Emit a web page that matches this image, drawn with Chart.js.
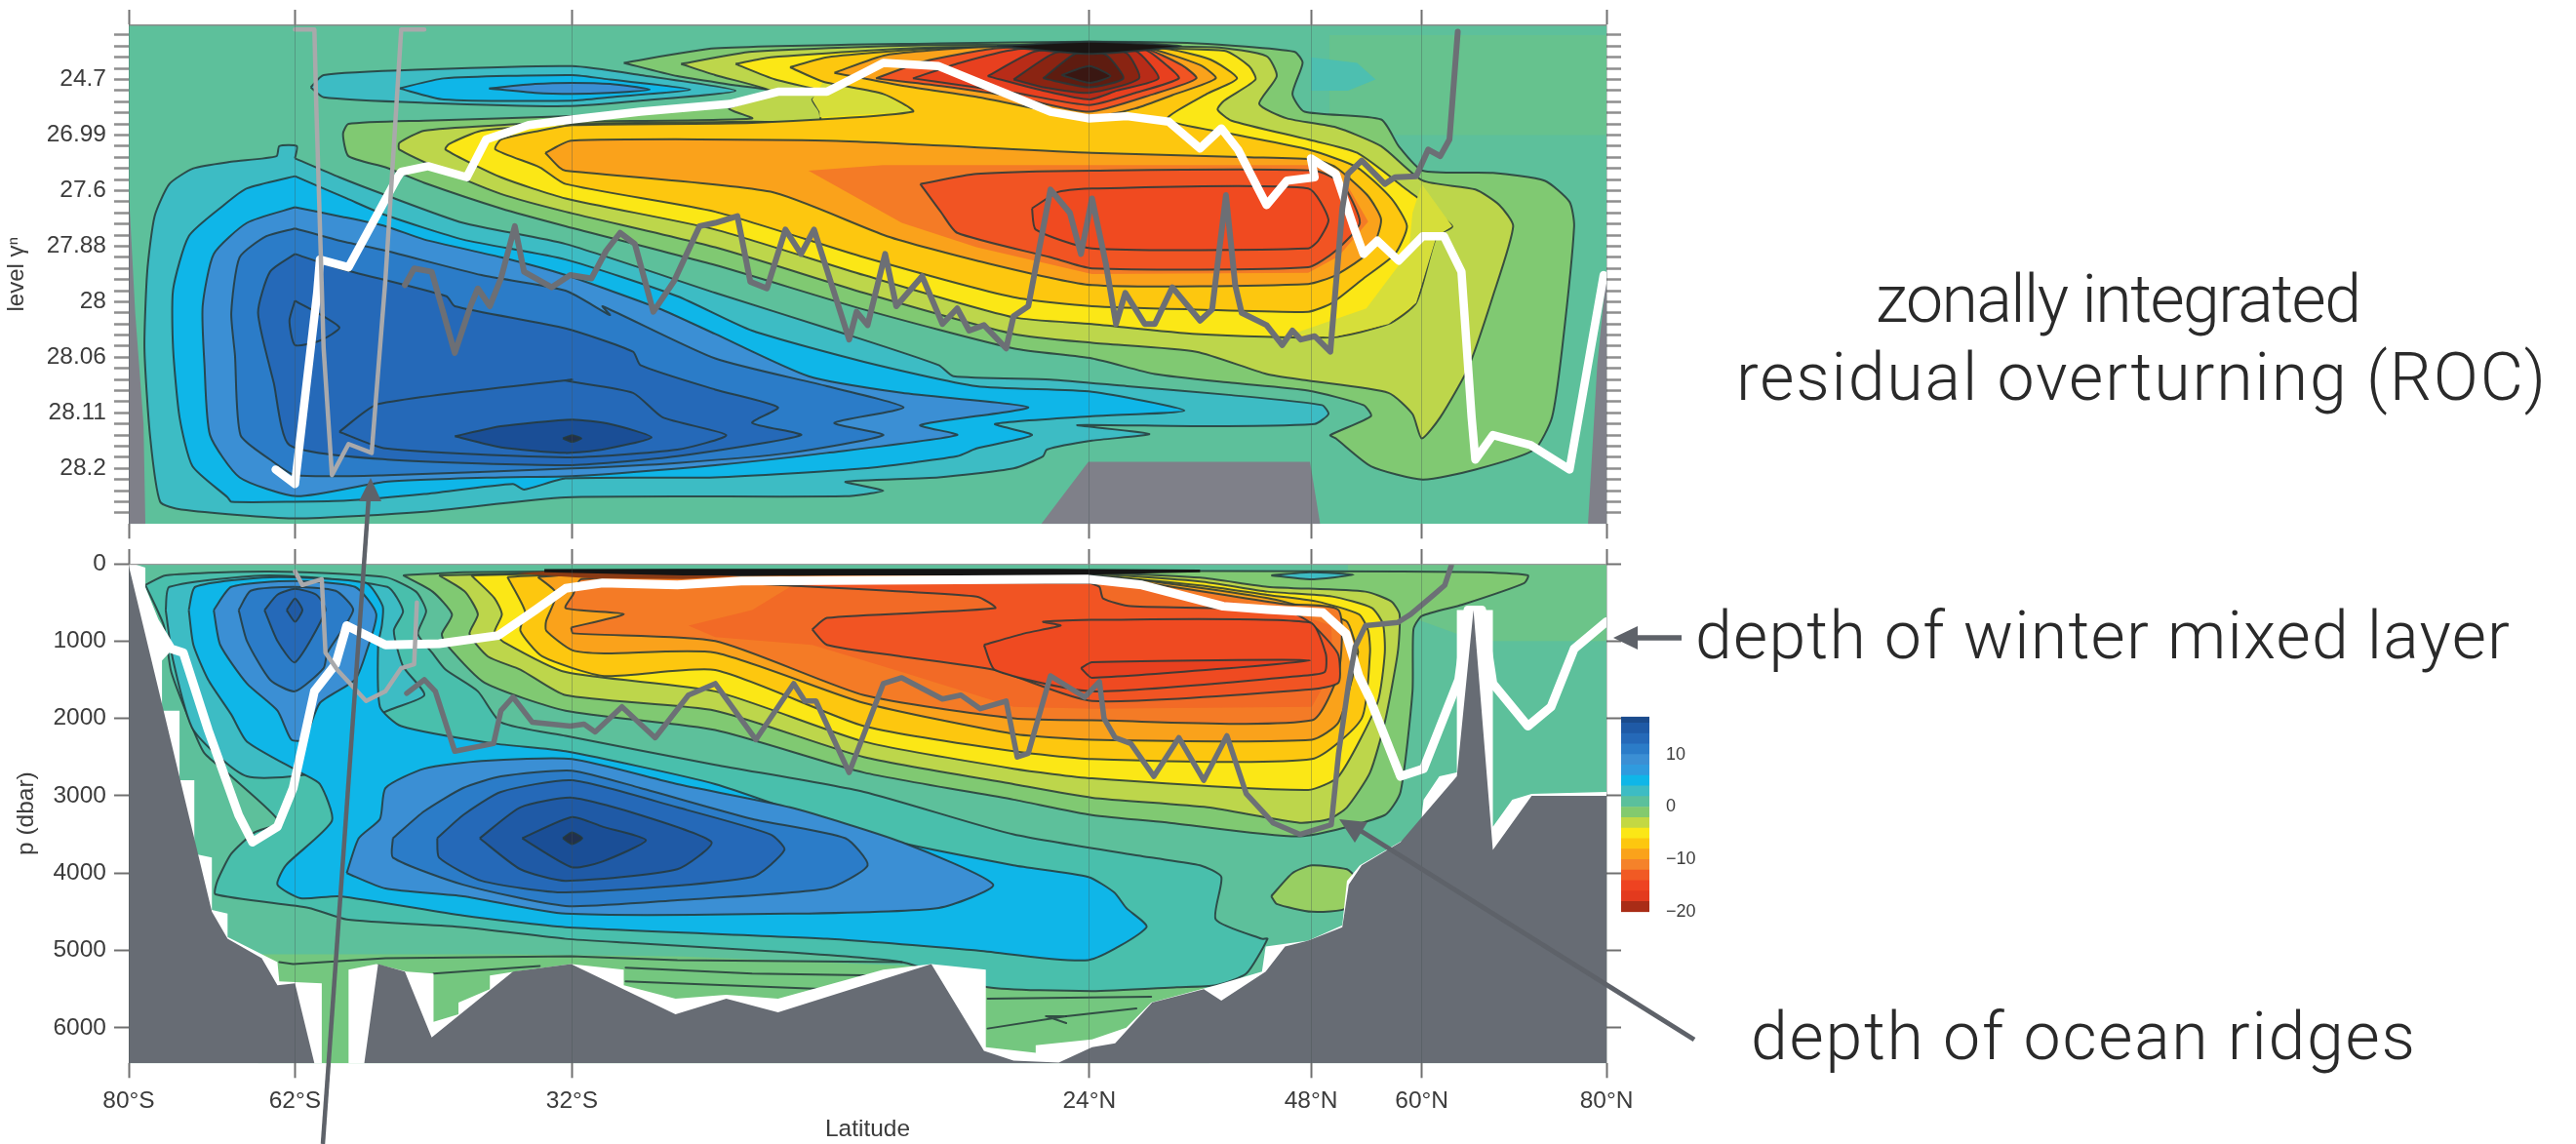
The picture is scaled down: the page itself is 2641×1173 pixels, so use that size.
<!DOCTYPE html>
<html>
<head>
<meta charset="utf-8">
<title>ROC</title>
<script src="https://cdn.jsdelivr.net/npm/chart.js@4/dist/chart.umd.min.js"></script>
<style>
html,body{margin:0;padding:0;background:#fff;width:2641px;height:1173px;overflow:hidden}
canvas{position:absolute;filter:blur(.7px)}
svg{position:absolute;left:0;top:0}
</style>
</head>
<body>
<canvas id="topChart" style="left:0;top:0"></canvas>
<canvas id="bottomChart" style="left:0;top:555px"></canvas>
<canvas id="barChart" style="left:1640px;top:715px"></canvas>
<svg width="2641" height="1173" xmlns="http://www.w3.org/2000/svg">
  <g font-family="Roboto" font-weight="300" font-size="68" fill="#2a2a2a" dominant-baseline="middle">
    <text x="1923" y="312" textLength="498">zonally integrated</text>
    <text x="1780" y="392" textLength="830">residual overturning (ROC)</text>
    <text x="1738" y="657" textLength="835">depth of winter mixed layer</text>
    <text x="1795" y="1068" textLength="681">depth of ocean ridges</text>
  </g>
  <g stroke="#5e6269" fill="none">
    <line x1="331" y1="1173" x2="378" y2="510" stroke-width="4.5"/>
    <line x1="1724" y1="654" x2="1675" y2="654" stroke-width="5.5"/>
    <line x1="1737" y1="1066" x2="1392" y2="850" stroke-width="5"/>
  </g>
  <g fill="#5e6269">
    <polygon points="380,490 368,514 391,514"/>
    <polygon points="1654,654 1679,642 1679,666"/>
    <polygon points="1373,840 1402,843 1389,864"/>
  </g>
</svg>
<script>
// axes
const latTicks = [-80, -62, -32, 24, 48, 60, 80];
const latLabels = ['80°S', '62°S', '32°S', '24°N', '48°N', '60°N', '80°N'];
const levelTicks = [4, 9, 14, 19, 24, 29, 34, 39];
const levelLabels = ['24.7', '26.99', '27.6', '27.88', '28', '28.06', '28.11', '28.2'];
const levelCount = 44;
const pressureTicks = [0, 1000, 2000, 3000, 4000, 5000, 6000];
const colorTicks = [-20, -10, 0, 10];
const colorEdges = [-20, -18, -16, -14, -12, -10, -8, -6, -4, -2, 0, 2, 4, 6, 8, 10, 12, 14, 16, 17.2];

// top panel: [latitude, level index]
const topBg = [[-80,-1],[80,-1],[80,44],[-80,44]];
const topEdge = [[-80,-0.96],[80,-0.96]];
const topPatch1 = [[50,0],[80,0],[80,9],[50,9]];
const topPatch2 = [[48,2],[53,2.5],[55,4],[52,5],[48,5]];
const tC1 = [[-62,11.1],[-57.2,12.8],[-52.2,14.4],[-43.8,16.9],[-32.7,18.8],[-16.5,23.2],[-2.4,26.9],[7.7,29.7],[9.3,30.7],[19.8,31],[28.1,31.6],[39.4,32.4],[49.2,33.3],[49.9,34.1],[48.4,35],[35.6,35.2],[22.7,35.1],[30.5,35.9],[24.3,36.5],[19.4,37.3],[19,37.9],[15.8,39],[7.7,39.8],[-2.4,40.2],[1.7,41],[-2.4,41.5],[-32.7,41.6],[-48,42.9],[-62.2,43.5],[-74.3,42.7],[-76.6,42],[-77.7,36],[-78.3,28.2],[-78,21.3],[-77.2,16.3],[-75.6,13.4],[-73,12],[-68.9,11.4],[-64,10.9],[-63.7,10],[-61.8,10]];
const tC2 = [[-62,12.7],[-56.4,14.7],[-52.2,16.2],[-43.8,18.4],[-32.7,20.2],[-20.6,23.5],[-12.5,26.6],[-0.4,29.4],[11.8,31.6],[24.3,32.1],[34.3,33.8],[24.3,34.3],[13.8,35],[17.8,36],[11.8,37.2],[9.7,37.9],[-0.4,39],[-16.5,39.8],[-32.7,39.9],[-37.2,40.9],[-38.4,40.4],[-48,41.3],[-56.4,41.9],[-62,42],[-68.9,42],[-69.3,41.6],[-73.1,38.8],[-74.5,34.4],[-75.2,28.2],[-75.2,22.9],[-73.5,18.1],[-69.7,15.3],[-67.2,13.8]];
const tC3 = [[-62,15.5],[-67.2,16.9],[-70.8,19.7],[-72,24.4],[-71.8,29.7],[-71.2,36],[-68,39.8],[-61.8,41.5],[-52.2,40.2],[-39.7,39.8],[-32.1,39.7],[-16.5,38.7],[-4.4,37.6],[9.7,36],[5.7,35.1],[17.4,33.5],[3.7,32.2],[-6.4,30.7],[-16.5,26.9],[-22.6,24.6],[-32.7,21.6],[-39.7,20],[-48,18.4],[-52.2,17.2],[-57.2,16.3]];
const tC4 = [[-62,17.4],[-65.1,18.1],[-68,20],[-68.9,25],[-68.5,28.8],[-67.9,36],[-64.7,38.2],[-62,39.6],[-52,39.6],[-32,39],[-20.6,38.5],[-8.4,37.6],[1.7,36],[-3.6,34.9],[3.9,33.5],[-4.4,31.6],[-16.5,29.1],[-28.7,24.4],[-27.9,25.2],[-32.7,23],[-41.8,21.6],[-52.2,19.4],[-57.2,18.5]];
const tC5 = [[-62,19.7],[-64.7,21.3],[-66,25],[-64.3,31.3],[-62.6,36.9],[-52,38.2],[-32,38.7],[-20.6,37.9],[-7.2,36],[-12.5,34.9],[-9.7,33.5],[-16.5,31.9],[-24.6,29.7],[-25.4,28.5],[-32.7,26.4],[-44.7,24.4],[-45.6,23.5],[-57.2,21]];
const tC5b = [[-62,23.9],[-57.2,26.3],[-59.3,27.5],[-62,27.9],[-62.6,25.7]];
const tC6 = [[-57.2,35.7],[-53,33.2],[-32,31],[-32.7,31.1],[-25.4,32.2],[-22.2,34.4],[-15.3,36],[-20.6,37.3],[-32.7,38],[-52.2,37.2]];
const tC7 = [[-44.7,36.1],[-39.7,35.2],[-32,34.6],[-27.9,35],[-23.4,36.2],[-28.7,37.3],[-32.7,37.6],[-39.7,37.1]];
const tC8 = [[-33,36.3],[-32,36],[-31,36.3],[-32,36.6]];
const tUpCold1 = [[-60.3,4.7],[-58.9,3.6],[-48,3.1],[-32,2.8],[-24.6,3.6],[-14.3,5],[-24.6,5.9],[-32.7,6.4],[-48,6.1],[-58.9,5.6]];
const tUpCold2 = [[-50.7,4.8],[-45.9,3.9],[-32,3.6],[-27.9,4],[-19.2,4.9],[-27.9,5.6],[-32,5.9],[-45.9,5.8]];
const tUpCold3 = [[-41,4.8],[-36,4.4],[-32,4.3],[-27.9,4.4],[-23.6,4.9],[-28,5.2],[-32,5.3],[-36,5.2]];
const tW1 = [[-26.4,2.5],[-16.5,1.2],[7.7,0.75],[23.9,0.6],[35.6,0.75],[46.2,1.5],[47.1,2.5],[46,5.3],[47.3,6.9],[55.6,7.6],[57.5,10],[60.1,12.2],[67.7,12.4],[73.3,13.1],[76,15],[76.5,17.2],[75.2,28.2],[74.1,34.4],[72.2,37.3],[65.8,39.1],[60.1,40],[54.5,38.8],[50.7,36.3],[50.1,36],[54.5,34.3],[53.7,33.3],[47.7,32],[39.4,31.3],[31.1,30.5],[24.3,29.1],[15.8,28.2],[-0.4,24.7],[-16.5,20.7],[-32.7,17.2],[-39.7,15.6],[-48,13.3],[-52.2,11.9],[-56.2,10.9],[-56.8,8.9],[-56.2,8],[-48,7.7],[-32.1,7.3],[-24.6,7],[-15.3,6.2],[-10,5.1],[-14.5,4.5],[-20.6,3.7]];
const tW2 = [[-20.2,2.6],[-12.5,1.5],[7.7,0.9],[37.5,1.1],[43.2,1.9],[44.3,3.7],[42.4,6.2],[45.4,7.5],[50.7,8.3],[55.6,10],[60.1,13.1],[65.8,13.9],[68.4,15.3],[69.9,17.2],[67.7,23.5],[65,30],[62,34.4],[60,36.3],[59,34.1],[56.4,32.2],[47.7,31.1],[43.2,30.5],[35.6,28.5],[24.3,27.7],[15.8,26.9],[-0.4,23.2],[-16.5,19.1],[-32.7,15.9],[-39.7,14.3],[-45.9,12.2],[-50.7,10.3],[-50.7,9.7],[-48,8.6],[-39.7,8.1],[-32,7.8],[-12.5,7.5],[-15,6.6],[-10,5.2],[-16.5,3.6]];
const tW3 = [[-14.3,2.6],[-10.5,2],[7.7,1.1],[38.6,1.4],[41.3,2.8],[42,4],[38.6,5.9],[37.9,6.7],[39.4,7.7],[47.7,9.4],[53,10.6],[58.2,13.8],[63.3,17.2],[61.6,18.1],[59.4,24.1],[56.4,26],[50.3,27.2],[35.6,26.9],[24.3,26],[15.8,25.4],[-0.4,21.6],[-16.5,17.5],[-32.7,14.7],[-39.7,12.8],[-45.7,10.3],[-45.3,9.8],[-41.8,8.6],[-32.1,8],[-12.5,7.8],[-5.2,7.8],[-5.2,6.9],[-6,5.8],[-4.8,5.1],[-10,4]];
const tYgPatch = [[-4.8,4.2],[1.7,5.3],[4.9,6.9],[-5.2,7.4],[-5.2,6.9],[-6,5.8]];
const tYgPatch2 = [[60,13.4],[63.3,17.2],[61.6,18.1],[59.4,24.1],[56.4,26],[50.3,27.2],[46,26.9],[54,24.6],[58.6,19.5],[59,16]];
const tW4 = [[-8.4,2.9],[-4.4,2],[7.7,1.2],[31.8,1.2],[37.1,2.2],[40,3.9],[36.7,5.3],[32.4,7.6],[39.4,8.9],[47.7,10.3],[53,11.9],[56.7,14.7],[58.4,17.2],[57.1,19.7],[53.7,21.9],[50.3,24.1],[47.7,24.9],[35.6,24.7],[24.3,24.4],[15.8,23.6],[-0.4,20],[-16.5,15.9],[-32.7,13.4],[-35.5,11.9],[-40.3,10.3],[-39.7,9.4],[-35.5,8.6],[-32,8.1],[-12.5,7.9],[4.9,6.9],[1.7,5.3],[-4.8,4.2]];
const tW5 = [[-34.9,10.6],[-32.1,9.5],[-4.4,9.5],[24.3,10.6],[41.3,11],[48.4,11.2],[50.7,11.9],[54.1,14.4],[55.6,16.6],[54.5,19.4],[50.7,21.6],[47.7,22.4],[24.3,22.5],[11.8,20.3],[2.1,18.1],[-10.5,14.1],[-32.7,12.2],[-33.4,11.9]];
const tW5b = [[-6.4,12.2],[1.7,11.7],[24.3,11.7],[48.4,11.7],[52,13.6],[54.2,16.8],[51,19.9],[47.7,21.4],[24.3,21.5],[11.8,19.1],[3.7,16.9]];
const tW6 = [[5.7,13.4],[11.8,12.5],[24.3,12.2],[48.4,12.2],[51.4,13.4],[53.3,16.9],[50.7,19.4],[47.7,20.9],[24.3,21],[19.8,20],[9.7,17.8],[8,16]];
const tW7 = [[17.8,15.6],[20.7,14.1],[24.3,13.8],[47.7,13.8],[49.9,16.6],[48.8,18.5],[47.7,19.2],[24.3,19.2],[18.2,17.5]];
const tUp5 = [[-3.6,3.4],[2,1.8],[12,1.1],[24,0.9],[30,1.1],[36,2.7],[37.7,3.9],[33,5.4],[29,6.6],[25,7.3],[20,6.9],[12,5.6],[4,4.6]];
const tUp6 = [[0.9,3.9],[6,2.4],[14,1.2],[24,1],[30,1.2],[34,2.7],[35.6,3.9],[31,5.3],[24,6.9],[16,5.6],[8,4.6]];
const tUp7 = [[4.9,3.9],[10,2.5],[16,1.3],[24,1],[30,1.3],[32.5,2.8],[33.7,3.9],[29,5.2],[24,6.3],[16,5.2],[10,4.5]];
const tUp8 = [[13,3.7],[18,1.5],[24,1.05],[29,1.4],[31.5,3.9],[27,5],[24,5.8],[19,5]];
const tUp9 = [[15.8,4],[20,1.7],[24,1.1],[28,1.6],[29.4,3.9],[24,5.2],[19,4.7]];
const tUp10 = [[19,3.9],[22,1.9],[24,1.2],[26,1.9],[27.7,3.9],[24,4.7]];
const tUp11 = [[21,3.6],[24,2.8],[26.3,3.7],[24,4.3]];
const tUpTop = [[14,1],[24,0.6],[34,1],[24,1.7]];
const tLandL = [[-80,14],[-79.3,25],[-78.4,35],[-78.2,44],[-80,44]];
const tLandM = [[18.8,44],[23.9,38.4],[47.9,38.4],[49,44]];
const tLandR = [[78,44],[79,29.7],[80,21.3],[80,44]];
const tMixed = [[-64.1,39.1],[-62,40.4],[-59.6,23.2],[-59.3,20.2],[-56.2,20.9],[-50.9,12.8],[-50.5,12.3],[-47.6,11.8],[-43.4,12.8],[-41.3,9.4],[-36.7,8.1],[-32,7.6],[-24.6,6.9],[-14.9,6.2],[-9.7,5.1],[-4.4,5.1],[-0.4,3.4],[1.7,2.5],[7.7,2.8],[11.8,4.2],[19.8,6.9],[23.9,7.5],[28.1,7.3],[32.6,7.8],[36,10.2],[38.3,8.4],[40.1,10.3],[43.2,15.3],[45.4,13.1],[48.4,12.8],[48,11.1],[50.7,12.5],[52.6,17.2],[53.7,19.7],[55.2,18.5],[57.5,20.3],[60.1,18.1],[62.4,18.1],[64.3,21.3],[65.4,34.4],[65.8,38.2],[67.7,36],[71.8,36.9],[76,39.1],[79.7,21.6]];
const tRidgeLight = [[-62,-0.5],[-59.9,-0.5],[-59.7,6.2],[-58.9,28.2],[-58,39.6],[-56.2,36.8],[-53.7,37.6],[-52.2,21.9],[-50.5,-0.5],[-48,-0.5]];
const tRidge = [[-50.1,22.5],[-49.1,21],[-47.2,21.3],[-44.7,28.6],[-43,24.4],[-42.2,22.8],[-40.9,24.4],[-39.7,21.9],[-38.2,17.2],[-37.2,21.3],[-34.2,22.7],[-32.2,21.6],[-29.9,21.9],[-28.3,19.4],[-26.8,17.8],[-25.2,18.8],[-23.2,24.9],[-21,22.2],[-18.2,17.2],[-16.5,16.9],[-14.1,16.3],[-12.7,22.2],[-10.9,22.8],[-8.9,17.5],[-7.2,19.7],[-5.8,17.5],[-2,27.4],[-1.2,24.9],[0,26.1],[1.9,19.7],[3.1,24.4],[5.9,21.7],[8.1,26],[9.7,24.6],[11,26.6],[12.6,26.1],[15,28.2],[15.8,25.3],[17.4,24.4],[19.8,13.9],[21.9,16],[23.1,19.7],[24.3,14.7],[25.8,20.6],[26.9,26],[27.9,23.2],[30,26],[31.1,26],[33,22.7],[36,25.7],[37.3,24.7],[38.8,14.4],[39.8,22.5],[40.5,25],[43.2,26.1],[44.9,27.9],[46,26.6],[46.9,27.4],[48.4,27.1],[50.1,28.5],[51.4,15.6],[52,12.5],[53.5,11.3],[56,13.4],[57.1,12.8],[59.4,12.7],[60.7,10.3],[62,10.9],[63,9.4],[63.3,6.2],[63.9,-0.3]];

// bottom panel: [latitude, pressure]
const botBg = [[-80,0],[80,0],[80,6460],[-80,6460]];
const botEdge = [[-80,0],[80,0]];
const botPatch = [[52,0],[80,0],[80,1000],[66,1000],[52,400]];
const botGreen = [[-66,5050],[-40,5050],[-20,5080],[5,5200],[13,5300],[30,5250],[37,5500],[37,6460],[-66,6460]];
const bC1 = [[-78.2,275],[-76,150],[-64.7,100],[-52.2,175],[-48.9,361],[-47.8,613],[-48.7,907],[-47.1,1159],[-45.7,1369],[-42.2,1650],[-39.7,2050],[-32.7,2225],[-16.5,2600],[-0.4,2950],[15.8,3500],[30.7,3800],[36,3900],[38.3,4050],[37.7,4600],[42.7,4850],[43.3,4850],[41,5300],[37.7,5450],[33.5,5475],[24.3,5525],[13,5475],[3.7,5150],[-8.4,5025],[-26.2,4900],[-32.7,4850],[-43.8,4700],[-56.4,4600],[-60.5,4450],[-70.6,4275],[-70.4,4100],[-68.9,3750],[-66.4,3475],[-63.7,3340],[-68.9,2750],[-71.8,2450],[-73,2150],[-75.4,1400],[-76.2,800]];
const bC1b = [[-76,600],[-75.6,300],[-64.7,150],[-52,300],[-50.3,613],[-51.3,865],[-50.3,1327],[-48,1700],[-52.8,1950],[-58,2650],[-67.2,2750],[-73,2150],[-75.2,1250]];
const bC2 = [[-73.5,600],[-72.8,300],[-64.7,175],[-54.3,250],[-52.5,550],[-52.6,800],[-53,1050],[-52.8,1850],[-50.5,2100],[-40.5,2325],[-32.7,2425],[-16.5,2850],[-0.4,3500],[15.8,3900],[23.9,4050],[26.7,4250],[28,4450],[30.2,4700],[23.9,5125],[11.8,5000],[-4.4,4850],[-32.7,4700],[-43.8,4550],[-57.2,4300],[-61.4,4325],[-63.9,4150],[-63,3900],[-58,3325],[-59.3,2850],[-61.4,2700],[-67.2,2300],[-68.9,1950],[-71.4,1500],[-73,1050]];
const bC3 = [[-56.4,4000],[-55.1,3550],[-52.8,3300],[-52.2,2900],[-48,2650],[-41.8,2550],[-32,2525],[-20.6,2850],[-8.4,3150],[3.7,3600],[13.6,4150],[7.7,4450],[-8.4,4525],[-32.7,4525],[-43.8,4300],[-52.2,4200]];
const bC4 = [[-51.4,3550],[-48,3200],[-43.8,2900],[-39.7,2750],[-32,2675],[-24.6,2900],[-12.5,3300],[-2.4,3550],[0,3900],[-4.4,4200],[-20.6,4350],[-32.7,4425],[-43.8,4150],[-51.4,3800]];
const bC5 = [[-46.6,3550],[-43.8,3250],[-39.7,2950],[-32,2800],[-20.6,3150],[-10.5,3500],[-9,3700],[-12.5,4050],[-32.7,4250],[-41.8,4100],[-46.4,3800]];
const bC6 = [[-42,3550],[-37.6,3150],[-32,3025],[-24.6,3250],[-16.9,3600],[-20.6,3950],[-32.7,4100],[-37.6,3950]];
const bC7 = [[-37.4,3550],[-32,3275],[-28.7,3400],[-24,3575],[-28.7,3850],[-32,3925]];
const bC8 = [[-33,3550],[-32,3475],[-30.9,3550],[-32,3625]];
const bU1 = [[-70.8,600],[-68.9,300],[-62.2,225],[-55.5,300],[-53.2,650],[-54.3,1150],[-55.5,1500],[-59.3,1800],[-61,2275],[-62.4,2275],[-63.9,1900],[-67.2,1550],[-70.1,1050]];
const bU2 = [[-68.1,600],[-66.8,350],[-62.2,300],[-57.6,350],[-55.7,600],[-58.5,1150],[-58.9,1350],[-62,1650],[-64.7,1500],[-67.2,1000]];
const bU3 = [[-65.3,600],[-63.9,400],[-62,325],[-59.7,400],[-58.7,600],[-62,1275],[-63.9,1000]];
const bU4 = [[-62.9,600],[-62,450],[-61.2,600],[-62,750]];
const bW1 = [[-50.3,151],[-43.8,110],[-20,90],[20,90],[57.7,100],[66.5,109],[71.5,150],[71.1,250],[64.4,529],[60,676],[59.1,850],[59,1650],[57.7,2950],[56,3250],[46.8,3525],[32.7,3350],[24.3,3250],[15.8,3050],[-0.4,2700],[-16.5,2150],[-32.7,1900],[-41.5,1537],[-45.7,1033],[-46.1,907],[-45,655],[-47.1,361]];
const bW2 = [[-46.4,151],[-30,110],[20,100],[36,180],[43.3,298],[53.9,361],[56.7,487],[57.6,655],[57.4,1150],[56,2050],[54.4,2700],[51.9,3150],[50,3300],[46.8,3350],[36.8,3150],[24.3,3025],[15.8,2850],[-0.4,2500],[-16.5,1900],[-32.7,1700],[-37.6,1369],[-41.1,1201],[-43.1,907],[-42.2,655],[-43.6,361]];
const bW3 = [[-42.9,151],[-30,120],[20,110],[36,230],[43.3,361],[50.3,424],[54.6,571],[55.8,781],[56,1150],[55.2,1800],[51,2750],[47.7,2925],[24.3,2775],[15.8,2650],[-0.4,2300],[-16.5,1650],[-32.7,1400],[-39.4,1012],[-40.4,886],[-39.6,655],[-40.4,445]];
const bW4 = [[-39,172],[-30,125],[20,120],[36,280],[43.3,403],[48.6,487],[53.2,655],[54.2,865],[54.4,1150],[53.5,2000],[48.1,2525],[24.3,2525],[15.8,2425],[-0.4,2100],[-16.5,1375],[-28.5,1453],[-35.2,1201],[-37.6,865],[-37.1,613]];
const bW5 = [[-35.7,172],[-30,130],[24,150],[43.3,445],[51.8,739],[52.7,991],[53.1,1150],[51,2050],[48.1,2275],[24.3,2275],[15.8,2200],[-0.4,1800],[-16.5,1150],[-28.5,1159],[-32,1117],[-34.8,865],[-34.8,739],[-33.7,382]];
const bW6 = [[-32.1,825],[-26.4,650],[-32.7,575],[-31.9,400],[-31,200],[-14,150],[24,160],[45,520],[51,600],[51,1400],[48.1,2025],[24.3,2025],[15.8,2000],[-0.4,1700],[-16.5,1000],[-31.9,900]];
const bW6b = [[-19.4,800],[-12.5,600],[-8.4,300],[10,170],[29.7,300],[45.2,600],[50.2,800],[50.4,1350],[48.1,1850],[24.3,1875],[15.8,1850],[3.7,1400],[-6,1050],[-16.5,950]];
const bW7 = [[-6,850],[-4.4,700],[13.8,575],[11.8,425],[-12.5,250],[23.9,250],[25.1,300],[25.5,450],[28.5,550],[45.2,600],[47.9,760],[50.9,1159],[51,1537],[48.1,1625],[24.3,1775],[13.8,1375],[3.7,1200],[-4.4,1050]];
const bW7b = [[12.6,1050],[17,900],[20.9,800],[19,750],[24.3,725],[47.9,760],[49.6,1159],[49.5,1400],[47,1450],[24.3,1650],[13.8,1375]];
const bW8 = [[23.1,1350],[24.3,1275],[47.9,1250],[24.3,1475]];
const bSurface = [[-35,70],[-20,65],[20,65],[36,75],[36,110],[20,150],[-20,150],[-35,110]];
const bSurfaceTip = [[-38,125],[-34,90],[-24,110],[-14,160],[-20,200],[-30,190]];
const bLobe = [[43.7,4300],[46,4000],[48.1,3900],[51.9,3950],[52.7,4050],[51.9,4450],[48.1,4500],[44.3,4400]];
const bSmallLobe = [[43.7,151],[47.9,109],[52.6,143],[47.9,201]];
const bLine1 = [[-63.7,5150],[-62.2,5175],[-52.2,5100],[-32.1,5075],[-20.6,5125],[3.7,5150]];
const bLine2 = [[-26.2,5225],[-12.5,5300],[1.3,5325]];
const bLine3 = [[-26.2,5400],[-4.4,5500]];
const bLine4 = [[13,5625],[30.7,5600]];
const bLine5 = [[13,6010],[21.5,5850],[19.3,5850],[21.5,5940]];
const bLine6 = [[21.5,5850],[29.1,5750]];
const bLine7 = [[-47,5300],[-35.5,5200]];
const bMask = [[-80,0],[-79.5,0],[-78.2,50],[-78.2,400],[-77.2,800],[-75.6,1150],[-76.4,1250],[-76.4,1900],[-74.5,1900],[-74.5,2800],[-72.9,2800],[-72.9,3750],[-71,3800],[-71,4475],[-69.3,4525],[-69.3,4825],[-63.9,5150],[-63.7,5400],[-59.1,5425],[-59.1,6460],[-56.2,6460],[-56.2,5250],[-53.2,5175],[-49.9,5275],[-47,5300],[-47,5925],[-44.3,5825],[-44.3,5675],[-40.9,5500],[-40.9,5325],[-38.2,5275],[-32.1,5175],[-26.4,5250],[-26.4,5450],[-20.8,5625],[-15.3,5575],[-9.7,5625],[1.7,5250],[6.9,5175],[12.8,5250],[12.8,6250],[18.2,6325],[18.2,6225],[24.3,6150],[28,6000],[30.7,5675],[37.7,5450],[42.7,5275],[43.1,4950],[47.7,4875],[51.4,4675],[51.9,4100],[53.3,3900],[59.8,3450],[60.2,3050],[61.9,2750],[63.8,2700],[63.8,600],[67.7,600],[67.7,3400],[69.8,3050],[71.9,2975],[80,2950],[80,6460],[-80,6460]];
const bLand = [[-80,25],[-71,4500],[-69.3,4850],[-65.6,5100],[-63.9,5450],[-62,5425],[-59.9,6460],[-54.5,6460],[-53,5175],[-50.1,5275],[-47.2,6125],[-38.4,5275],[-32.1,5175],[-20.8,5825],[-15.3,5625],[-9.7,5800],[6.9,5175],[12.6,6300],[15.8,6425],[20.7,6450],[24.3,6250],[26.8,6200],[30.8,5675],[36.4,5500],[38.3,5650],[43.1,5275],[45.2,4950],[47.7,4875],[51.4,4700],[52.1,4150],[53.5,3900],[57.7,3600],[60.2,3250],[63.8,2750],[65.6,600],[67.7,3700],[71.9,3000],[80,3000],[80,6460],[-80,6460]];
const bMixed = [[-79.5,75],[-77.2,750],[-75.4,1100],[-74.1,1150],[-71.4,2150],[-68.1,3250],[-66.6,3600],[-63.9,3400],[-62.2,2900],[-61,2250],[-59.9,1650],[-57.6,1300],[-56.4,800],[-52.2,1050],[-46.4,1033],[-40,928],[-35.9,592],[-32.7,319],[-28.7,250],[-20.6,275],[-13.7,225],[23.9,200],[29.7,275],[38.5,550],[43.3,592],[49.3,634],[51.8,907],[53.2,1453],[54.4,1750],[57.7,2750],[60.2,2650],[64,1500],[65,600],[66.5,600],[67.7,1550],[71.5,2100],[74,1850],[76.5,1100],[80,750]];
const bRidgeLight = [[-62,100],[-61.2,275],[-59.1,200],[-58.7,1150],[-57.4,1375],[-54.3,1775],[-52.2,1650],[-50.5,1350],[-49.1,1300],[-48.8,500]];
const bRidge = [[-49.9,1675],[-48,1500],[-46.8,1650],[-44.7,2425],[-40.5,2325],[-39.7,1900],[-38.4,1725],[-36.3,2050],[-32.2,2100],[-30.7,2075],[-29.5,2175],[-26.6,1850],[-23,2250],[-19.4,1700],[-16.5,1550],[-12.1,2275],[-8,1550],[-6.8,1775],[-5.6,1775],[-2,2700],[1.7,1550],[3.7,1475],[8.1,1750],[10.1,1700],[12.2,1875],[15,1775],[16.2,2500],[17.4,2450],[19.8,1450],[23.5,1725],[25.1,1525],[25.6,2000],[26.8,2250],[28.5,2325],[31,2750],[33.7,2250],[36.4,2800],[38.9,2225],[41,2975],[43.9,3350],[46.8,3500],[50.2,3375],[51,2450],[52.1,1537],[52.8,1075],[53.9,802],[57.4,760],[58.8,655],[61.3,403],[62.5,277],[63.2,25]];

const LINE = 'rgba(38,56,58,.85)';
const GREEN = '#80c972', OLIVE = '#bdd64b', YELLOW = '#fbe716', AMBER = '#fdc70f', ORANGE = '#faa21b', DEEP = '#f47b26', REDOR = '#f15423', RED = '#e8401f';
const BASE = '#5dc09b', TEAL0 = '#49bfac', TEAL = '#3dbcc4', CYAN = '#0fb6e8', B1 = '#3b8fd4', B2 = '#2b7cc8', B3 = '#2569b8', B4 = '#1f5aa6', B5 = '#1a4e96';
const colorBands = ['#a92c16', '#e33a1e', '#ee4321', '#f15a24', '#f5822a', '#faa21b', '#fdc70f', '#fbe716', '#c3d843', '#83ca6e', '#5bc09c', '#3dbcc4', '#0fb6e8', '#2f9bde', '#3b8fd4', '#2b7cc8', '#2569b8', '#1f5aa6', '#1b4b8c'];

function poly(points, color, line) {
  const pts = points.concat([points[0]]).map(p => ({x: p[0], y: p[1]}));
  return {data: pts, showLine: true, pointRadius: 0, fill: 'shape', backgroundColor: color, borderColor: line ? LINE : 'rgba(0,0,0,0)', borderWidth: line ? 2 : 0, tension: line ? 0.2 : 0, yAxisID: 'y'};
}
function path(points, color, width, tension) {
  return {data: points.map(p => ({x: p[0], y: p[1]})), showLine: true, pointRadius: 0, fill: false, borderColor: color, borderWidth: width, tension: tension || 0, borderJoinStyle: 'round', borderCapStyle: 'round', yAxisID: 'y'};
}
function stack(list) {
  // later entries paint on top
  list.forEach((d, i) => { d.order = -i; });
  return list;
}
const setTicks = vals => s => { s.ticks = vals.map(v => ({value: v})); };
const allLevels = Array.from({length: levelCount}, (_, i) => i);

const topLayers = stack([
  poly(topBg, BASE), poly(topPatch1, '#66c28e'), poly(topPatch2, '#4dbfb0'),
  poly(tC1, TEAL, true), poly(tC2, CYAN, true), poly(tC3, B1, true), poly(tC4, B2, true), poly(tC5, B3, true), poly(tC5b, B3, true),
  poly(tC6, B3, true), poly(tC7, B5, true), poly(tC8, '#20304f', true),
  poly(tUpCold1, TEAL, true), poly(tUpCold2, CYAN, true), poly(tUpCold3, B1, true),
  poly(tW1, GREEN, true), poly(tW2, OLIVE, true), poly(tW3, YELLOW, true), poly(tYgPatch, '#d6de3a'), poly(tYgPatch2, '#d6de3a'), poly(tW4, AMBER, true),
  poly(tW5, ORANGE, true), poly(tW5b, DEEP), poly(tW6, REDOR, true), poly(tW7, '#f04a20', true),
  poly(tUp5, ORANGE, true), poly(tUp6, REDOR, true), poly(tUp7, RED, true), poly(tUp8, '#b82c18', true), poly(tUp9, '#8a2412', true), poly(tUp10, '#5e1c10', true), poly(tUp11, '#3a1712', true), poly(tUpTop, '#1a1513', true),
  poly(tLandL, '#7f8089'), poly(tLandM, '#7f8089'), poly(tLandR, '#7f8089'),
  path(tMixed, '#ffffff', 8.5), path(tRidgeLight, '#a9a9ab', 4.5), path(tRidge, '#6c6f75', 6),
  path(topEdge, '#8a8a8a', 3)
]);

const botLayers = stack([
  poly(botBg, BASE), poly(botPatch, '#6cc489'), poly(botGreen, '#74c77f'),
  poly(bC1, TEAL0, true), poly(bC1b, TEAL, true), poly(bC2, CYAN, true), poly(bC3, B1, true), poly(bC4, B2, true), poly(bC5, B3, true), poly(bC6, B4, true), poly(bC7, B5, true), poly(bC8, '#20304f', true),
  poly(bU1, B1, true), poly(bU2, B2, true), poly(bU3, B3, true), poly(bU4, B4, true),
  poly(bW1, GREEN, true), poly(bW2, OLIVE, true), poly(bW3, YELLOW, true), poly(bW4, AMBER, true), poly(bW5, ORANGE, true), poly(bW6, DEEP, true), poly(bW6b, '#f26a26'), poly(bW7, REDOR, true), poly(bW7b, '#ef4a21', true), poly(bW8, RED, true),
  poly(bSurfaceTip, '#8a3a14'), poly(bSurface, '#141414'), poly(bLobe, '#98cf62', true), poly(bSmallLobe, TEAL, true),
  path(bLine1, LINE, 2), path(bLine2, LINE, 2), path(bLine3, LINE, 2), path(bLine4, LINE, 2), path(bLine5, LINE, 2), path(bLine6, LINE, 2), path(bLine7, LINE, 2),
  poly(bMask, '#ffffff'),
  path(bMixed, '#ffffff', 9), path(bRidgeLight, '#a9a9ab', 4.5), path(bRidge, '#6c7076', 5.5),
  poly(bLand, '#676c74'),
  path(botEdge, '#9a9a9a', 2.5)
]);

const labelFont = {family: '"Liberation Sans"', size: 24.5};
const textColor = '#3c3c3c';
const gridBase = {color: 'rgba(70,80,80,.35)', lineWidth: 1, tickColor: '#707070', tickWidth: 2, z: 1};
const frame = {display: false};

function xAxes(bottomHeight, showLabels, topHeight) {
  return {
    x: {type: 'linear', position: 'bottom', min: -80, max: 80, afterBuildTicks: setTicks(latTicks), afterFit: s => { s.height = bottomHeight; },
      grid: Object.assign({tickLength: 15}, gridBase), border: frame,
      ticks: {display: showLabels, autoSkip: false, maxRotation: 0, padding: 9, color: textColor, font: labelFont, callback: v => latLabels[latTicks.indexOf(v)]},
      title: {display: showLabels, text: 'Latitude', color: textColor, font: labelFont, padding: 0}},
    xTop: {type: 'linear', axis: 'x', position: 'top', min: -80, max: 80, afterBuildTicks: setTicks(latTicks), afterFit: s => { s.height = topHeight; },
      grid: {drawOnChartArea: false, tickLength: 15, tickColor: '#707070', tickWidth: 2}, border: frame, ticks: {display: false}}
  };
}
function baseOptions(scales, padTop) {
  return {responsive: false, animation: false, layout: {padding: {top: padTop}}, plugins: {legend: {display: false}, tooltip: {enabled: false}}, scales: scales};
}

const topCanvas = document.getElementById('topChart');
topCanvas.width = 1700; topCanvas.height = 560;
new Chart(topCanvas, {type: 'scatter', data: {datasets: topLayers}, options: baseOptions(Object.assign(xAxes(22.5, false, 16), {
  y: {type: 'linear', position: 'left', reverse: true, min: -0.96, max: 44, afterBuildTicks: setTicks(allLevels), afterFit: s => { s.width = 132; },
    grid: {drawOnChartArea: false, tickLength: 15, tickColor: '#8e8e8e', tickWidth: 2.5}, border: frame,
    ticks: {autoSkip: false, padding: 8, color: textColor, font: labelFont, callback: v => { const i = levelTicks.indexOf(v); return i < 0 ? '' : levelLabels[i]; }},
    title: {display: true, text: 'level γⁿ', color: textColor, font: {family: '"Liberation Sans"', size: 24}, padding: {top: 3, bottom: 0}}},
  yRight: {type: 'linear', axis: 'y', position: 'right', reverse: true, min: -0.96, max: 44, afterBuildTicks: setTicks(allLevels), afterFit: s => { s.width = 53; },
    grid: {drawOnChartArea: false, tickLength: 15, tickColor: '#8e8e8e', tickWidth: 2.5}, border: frame, ticks: {display: false}}
}), 9)});

const botCanvas = document.getElementById('bottomChart');
botCanvas.width = 1700; botCanvas.height = 618;
new Chart(botCanvas, {type: 'scatter', data: {datasets: botLayers}, options: baseOptions(Object.assign(xAxes(82.7, true, 15), {
  y: {type: 'linear', position: 'left', reverse: true, min: 0, max: 6460, afterBuildTicks: setTicks(pressureTicks), afterFit: s => { s.width = 132; },
    grid: {drawOnChartArea: false, tickLength: 15, tickColor: '#707070', tickWidth: 2}, border: frame,
    ticks: {autoSkip: false, padding: 8, color: textColor, font: labelFont, callback: v => String(v)},
    title: {display: true, text: 'p (dbar)', color: textColor, font: labelFont, padding: {top: 13, bottom: 0}}},
  yRight: {type: 'linear', axis: 'y', position: 'right', reverse: true, min: 0, max: 6460, afterBuildTicks: setTicks(pressureTicks), afterFit: s => { s.width = 53; },
    grid: {drawOnChartArea: false, tickLength: 15, tickColor: '#707070', tickWidth: 2}, border: frame, ticks: {display: false}}
}), 8)});

const barCanvas = document.getElementById('barChart');
barCanvas.width = 120; barCanvas.height = 240;
new Chart(barCanvas, {type: 'bar', data: {labels: ['ROC'], datasets: colorBands.map((c, i) => ({data: [[colorEdges[i], colorEdges[i + 1]]], backgroundColor: c, barPercentage: 1, categoryPercentage: 1, borderWidth: 0, grouped: false}))},
  options: {responsive: false, animation: false, layout: {padding: {top: 17, bottom: 19, left: 22}}, plugins: {legend: {display: false}, tooltip: {enabled: false}},
    scales: {x: {display: false},
      y: {position: 'right', min: -20, max: 17.2, afterBuildTicks: setTicks(colorTicks), afterFit: s => { s.width = 69; },
        grid: {display: false}, border: {display: false},
        ticks: {autoSkip: false, padding: 9, color: textColor, font: {family: '"Liberation Sans"', size: 18}, callback: v => String(v).replace('-', '\u2212')}}}}});
</script>
</body>
</html>
